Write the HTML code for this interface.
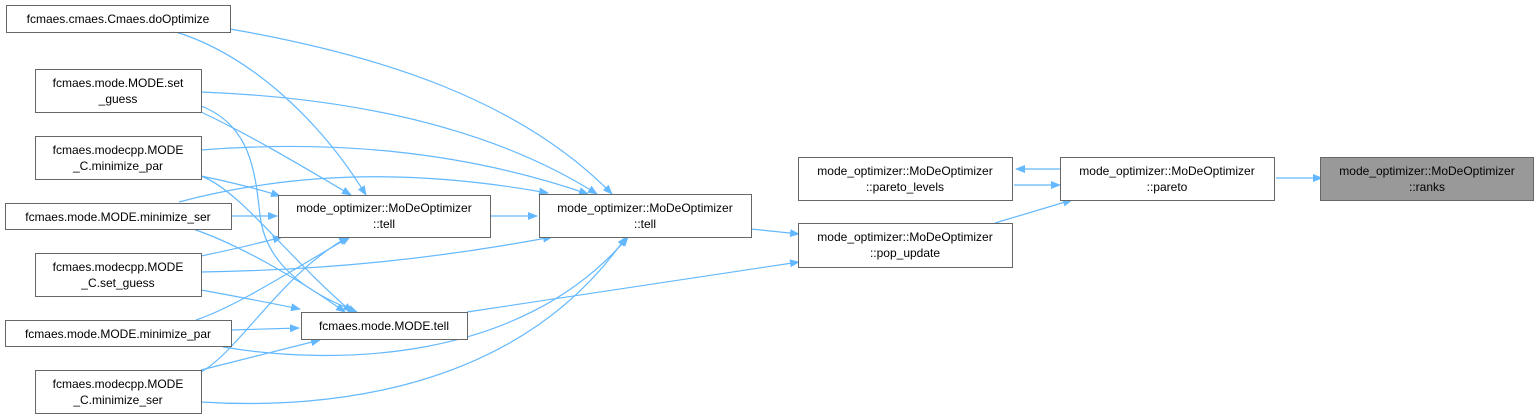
<!DOCTYPE html>
<html><head><style>
html,body{margin:0;padding:0;background:#fff;width:1538px;height:419px;overflow:hidden}
svg text{font-family:"Liberation Sans",Arial,sans-serif;font-size:12px;fill:#000}
</style></head><body>
<svg width="1538" height="419" viewBox="0 0 1538 419" xmlns="http://www.w3.org/2000/svg">
<defs>
<marker id="a" markerWidth="10" markerHeight="8" refX="9" refY="4" orient="auto" markerUnits="userSpaceOnUse">
<path d="M0,0 L10,4 L0,8 z" fill="#63b8ff"/></marker>
</defs>
<g fill="none" stroke="#63b8ff" stroke-width="1.2" marker-end="url(#a)">
<path d="M176,32 C250,55 320,120 366,195"/>
<path d="M201,112 C250,135 300,165 351,195"/>
<path d="M201,176 C230,182 255,188 280,196"/>
<path d="M231,216 L277,216"/>
<path d="M201,256 C230,250 260,243 282,237"/>
<path d="M196,320 C240,305 300,265 350,237"/>
<path d="M201,372 C240,350 280,275 348,237"/>
<path d="M201,106 C250,125 255,170 260,215 C265,260 300,290 357,312"/>
<path d="M201,176 C240,190 290,260 352,312"/>
<path d="M193,229 C240,245 300,280 345,312"/>
<path d="M201,290 C240,297 270,303 300,309"/>
<path d="M231,330 L299,328"/>
<path d="M201,370 C240,360 280,350 320,340"/>
<path d="M230,29 C380,55 520,100 612,194"/>
<path d="M201,92 C330,97 480,120 597,194"/>
<path d="M201,150 C330,140 460,150 588,194"/>
<path d="M179,202 C300,170 420,170 548,193"/>
<path d="M490,216 L537,216"/>
<path d="M201,272 C330,270 440,258 552,237"/>
<path d="M223,347 C330,365 520,365 628,237"/>
<path d="M201,402 C330,410 520,390 626,237"/>
<path d="M751,229 L799,234"/>
<path d="M467,312 L799,262"/>
<path d="M995,223 L1072,200"/>
<path d="M1014,185 L1060,185"/>
<path d="M1062,169 L1016,169"/>
<path d="M1276,178 L1322,178"/>
</g>
<g stroke="#666" stroke-width="1" fill="#fff">
<rect x="6.5" y="5.5" width="224" height="27"/>
<rect x="35.5" y="69.5" width="166" height="43"/>
<rect x="35.5" y="136.5" width="166" height="43"/>
<rect x="5.5" y="203.5" width="226" height="26"/>
<rect x="35.5" y="253.5" width="166" height="43"/>
<rect x="5.5" y="320.5" width="226" height="26"/>
<rect x="35.5" y="370.5" width="166" height="43"/>
<rect x="278.5" y="195.5" width="212" height="42"/>
<rect x="301.5" y="312.5" width="166" height="27"/>
<rect x="539.5" y="194.5" width="212" height="43"/>
<rect x="798.5" y="157.5" width="214" height="43"/>
<rect x="798.5" y="223.5" width="214" height="44"/>
<rect x="1060.5" y="157.5" width="214" height="43"/>
<rect x="1320.5" y="157.5" width="213" height="43" fill="#999"/>
</g>
<g text-anchor="middle">
<text x="118" y="23">fcmaes.cmaes.Cmaes.doOptimize</text>
<text x="118" y="87">fcmaes.mode.MODE.set</text>
<text x="118" y="103">_guess</text>
<text x="118" y="154">fcmaes.modecpp.MODE</text>
<text x="118" y="170">_C.minimize_par</text>
<text x="118" y="221">fcmaes.mode.MODE.minimize_ser</text>
<text x="118" y="271">fcmaes.modecpp.MODE</text>
<text x="118" y="287">_C.set_guess</text>
<text x="118" y="338">fcmaes.mode.MODE.minimize_par</text>
<text x="118" y="388">fcmaes.modecpp.MODE</text>
<text x="118" y="404">_C.minimize_ser</text>
<text x="384" y="212">mode_optimizer::MoDeOptimizer</text>
<text x="384" y="228">::tell</text>
<text x="384" y="330">fcmaes.mode.MODE.tell</text>
<text x="645" y="212">mode_optimizer::MoDeOptimizer</text>
<text x="645" y="228">::tell</text>
<text x="905" y="175">mode_optimizer::MoDeOptimizer</text>
<text x="905" y="191">::pareto_levels</text>
<text x="905" y="241">mode_optimizer::MoDeOptimizer</text>
<text x="905" y="257">::pop_update</text>
<text x="1167" y="175">mode_optimizer::MoDeOptimizer</text>
<text x="1167" y="191">::pareto</text>
<text x="1427" y="175">mode_optimizer::MoDeOptimizer</text>
<text x="1427" y="191">::ranks</text>
</g>
</svg>
</body></html>
